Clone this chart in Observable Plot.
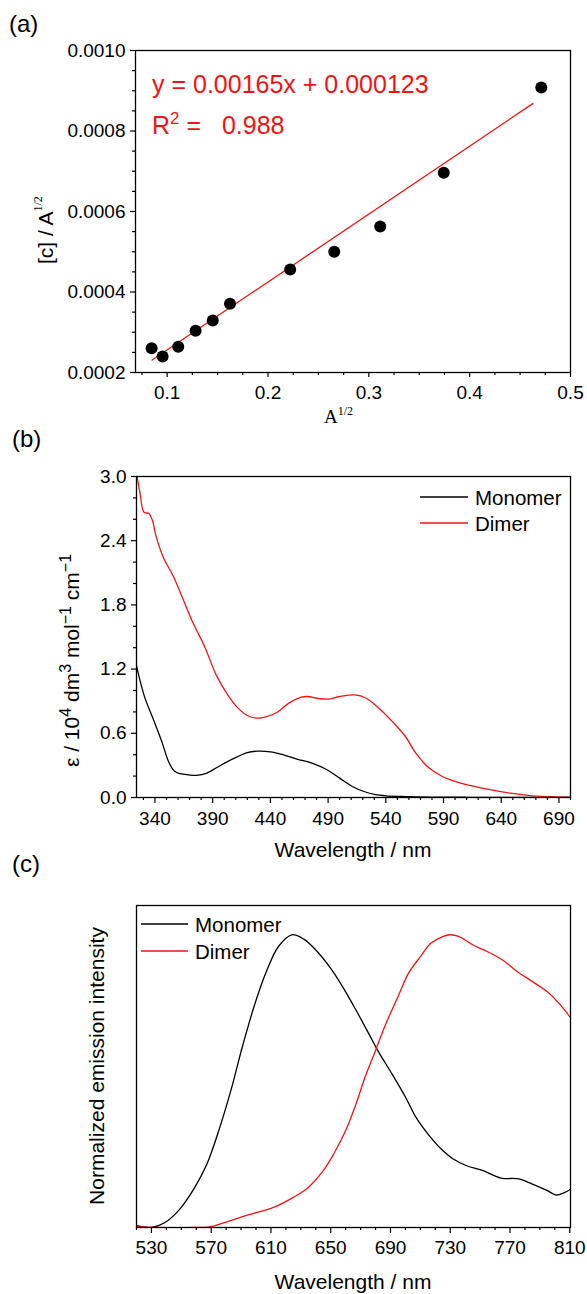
<!DOCTYPE html>
<html>
<head>
<meta charset="utf-8">
<script src="https://cdn.jsdelivr.net/npm/d3@7"></script>
<script src="https://cdn.jsdelivr.net/npm/@observablehq/plot@0.6"></script>
<style>
  body { margin: 0; background: #fff; }
  #page { position: relative; width: 587px; height: 1294px; overflow: hidden; background: #fff; }
  .panel { position: absolute; left: 0; }
  #overlay { position: absolute; left: 0; top: 0; pointer-events: none; }
</style>
</head>
<body>
<div id="page"></div>
<script>
// ---------- Panel (a): [c]/A^1/2 vs A^1/2 ----------
const sqrtA   = [0.0846, 0.0955, 0.1110, 0.1282, 0.1452, 0.1623, 0.2220, 0.2657, 0.3113, 0.3743, 0.4710];
const cOverSqrtA = [0.000260, 0.000240, 0.000264, 0.000304, 0.000329, 0.000371, 0.000456, 0.000500, 0.000563, 0.000696, 0.000908];
const fitX = [0.0851, 0.4626];
const fitY = [0.000231, 0.000868];
const aXTicks = [0.1, 0.2, 0.3, 0.4, 0.5];
const aXMinor = [0.075, 0.125, 0.15, 0.175, 0.225, 0.25, 0.275, 0.325, 0.35, 0.375, 0.425, 0.45, 0.475];
const aYTicks = [0.0002, 0.0004, 0.0006, 0.0008, 0.0010];
const aYMinor = [0.00025, 0.0003, 0.00035, 0.00045, 0.0005, 0.00055, 0.00065, 0.0007, 0.00075, 0.00085, 0.0009, 0.00095];

// ---------- Panel (b): absorption ----------
const monoAbsWl  = [324, 331, 339, 346, 352, 357, 362, 369, 376, 385, 394, 407, 420, 429, 440, 450, 463, 476, 489, 500, 511, 521, 531, 540, 557, 579, 612, 650, 700];
const monoAbsEps = [1.23, 0.94, 0.72, 0.52, 0.33, 0.245, 0.222, 0.212, 0.207, 0.228, 0.283, 0.358, 0.42, 0.433, 0.427, 0.402, 0.358, 0.321, 0.259, 0.181, 0.103, 0.056, 0.027, 0.016, 0.009, 0.004, 0.002, 0.001, 0];
const dimerAbsWl  = [324.5, 327, 330.5, 334.8, 337.8, 341, 347, 356, 364, 373, 383, 393, 403, 412, 420, 429, 437, 446, 456, 466, 472, 482, 490, 500, 513, 523, 534, 547, 557, 566, 576, 589, 605, 628, 648, 667, 687, 700];
const dimerAbsEps = [3.0, 2.85, 2.666, 2.654, 2.589, 2.44, 2.25, 2.066, 1.863, 1.63, 1.411, 1.146, 0.96, 0.835, 0.766, 0.741, 0.757, 0.797, 0.882, 0.935, 0.944, 0.925, 0.919, 0.944, 0.959, 0.928, 0.835, 0.695, 0.57, 0.414, 0.29, 0.196, 0.134, 0.078, 0.04, 0.016, 0.006, 0.003];
const bXTicks = [340, 390, 440, 490, 540, 590, 640, 690];
const bXMinor = d3.range(330, 701, 10).filter(v => !bXTicks.includes(v));
const bYTicks = [0, 0.6, 1.2, 1.8, 2.4, 3.0];
const bYMinor = [0.2, 0.4, 0.8, 1.0, 1.4, 1.6, 2.0, 2.2, 2.6, 2.8];

// ---------- Panel (c): emission ----------
const monoEmWl = [520, 530, 539, 549, 559, 567, 575, 583, 591, 599, 607, 615, 624, 632, 640, 650, 658, 667, 676, 682, 691, 700, 707, 715, 724, 732, 741, 752, 764, 776, 785, 795, 801, 806, 810];
const monoEm   = [0.006, 0, 0.017, 0.063, 0.137, 0.215, 0.33, 0.465, 0.62, 0.76, 0.875, 0.96, 1.0, 0.985, 0.948, 0.885, 0.822, 0.742, 0.657, 0.6, 0.525, 0.446, 0.377, 0.32, 0.268, 0.234, 0.211, 0.194, 0.169, 0.166, 0.148, 0.126, 0.111, 0.118, 0.129];
const dimerEmWl = [520, 534, 559, 569, 579, 589, 599, 610, 625, 635, 645, 652, 660, 667, 673, 680, 687, 695, 702, 710, 717, 725, 730, 736, 745, 755, 765, 775, 785, 795, 803, 810];
const dimerEm   = [0.003, 0, 0, 0.002, 0.017, 0.034, 0.049, 0.065, 0.103, 0.137, 0.194, 0.251, 0.331, 0.423, 0.514, 0.605, 0.697, 0.788, 0.868, 0.925, 0.971, 0.994, 1.0, 0.994, 0.966, 0.942, 0.914, 0.874, 0.84, 0.805, 0.765, 0.72];
const cXTicks = [530, 570, 610, 650, 690, 730, 770, 810];
const cXMinor = d3.range(520, 811, 10).filter(v => !cXTicks.includes(v));

const seriesNames = ["Monomer", "Dimer"];
const RED = "#f01414";
const SANS = '"Liberation Sans", Arial, Helvetica, sans-serif';
const SERIF = '"Liberation Serif", "Times New Roman", serif';

const zip = (xs, ys) => xs.map((x, i) => ({x, y: ys[i]}));

const page = document.getElementById("page");
function place(svg, top) {
  const div = document.createElement("div");
  div.className = "panel";
  div.style.top = top + "px";
  div.appendChild(svg);
  page.appendChild(div);
}
const baseStyle = {fontFamily: SANS, fontSize: "19px", color: "#000", background: "none", overflow: "visible"};
const blank = () => "";

// Panel (a)
place(Plot.plot({
  width: 587, height: 420,
  marginTop: 50, marginBottom: 48, marginLeft: 135, marginRight: 17,
  style: baseStyle,
  x: {domain: [0.0686, 0.5], label: null},
  y: {domain: [0.0002, 0.0010], label: null},
  marks: [
    Plot.frame({stroke: "#000", strokeWidth: 1.3}),
    Plot.axisX({ticks: aXTicks, tickSize: 5, tickPadding: 8, strokeWidth: 1.2, tickFormat: d3.format(".1f"), label: null}),
    Plot.axisX({ticks: aXMinor, tickSize: 3, strokeWidth: 1.2, tickFormat: blank, label: null}),
    Plot.axisY({ticks: aYTicks, tickSize: 5, tickPadding: 5, strokeWidth: 1.2, tickFormat: d3.format(".4f"), label: null}),
    Plot.axisY({ticks: aYMinor, tickSize: 3, strokeWidth: 1.2, tickFormat: blank, label: null}),
    Plot.line(zip(fitX, fitY), {x: "x", y: "y", stroke: RED, strokeWidth: 1.3}),
    Plot.dot(zip(sqrtA, cOverSqrtA), {x: "x", y: "y", r: 6, fill: "#000", stroke: "none"})
  ]
}), 0);

// Panel (b)
place(Plot.plot({
  width: 587, height: 440,
  marginTop: 56, marginBottom: 63, marginLeft: 136, marginRight: 17,
  style: baseStyle,
  x: {domain: [324, 700], label: null},
  y: {domain: [0, 3], label: null},
  marks: [
    Plot.line(zip(monoAbsWl, monoAbsEps), {x: "x", y: "y", stroke: "#000", strokeWidth: 1.3, curve: "catmull-rom", clip: true}),
    Plot.line(zip(dimerAbsWl, dimerAbsEps), {x: "x", y: "y", stroke: RED, strokeWidth: 1.3, curve: "catmull-rom", clip: true}),
    Plot.frame({stroke: "#000", strokeWidth: 1.3}),
    Plot.axisX({ticks: bXTicks, tickSize: 6, tickPadding: 8, strokeWidth: 1.2, tickFormat: d3.format("d"), label: null}),
    Plot.axisX({ticks: bXMinor, tickSize: 3, strokeWidth: 1.2, tickFormat: blank, label: null}),
    Plot.axisY({ticks: bYTicks, tickSize: 5, tickPadding: 5, strokeWidth: 1.2, tickFormat: d3.format(".1f"), label: null}),
    Plot.axisY({ticks: bYMinor, tickSize: 3, strokeWidth: 1.2, tickFormat: blank, label: null})
  ]
}), 420);

// Panel (c)
place(Plot.plot({
  width: 587, height: 434,
  marginTop: 45, marginBottom: 67, marginLeft: 136, marginRight: 17,
  style: baseStyle,
  x: {domain: [520, 810.5], label: null},
  y: {domain: [0, 1.1], axis: null, label: null},
  marks: [
    Plot.line(zip(monoEmWl, monoEm), {x: "x", y: "y", stroke: "#000", strokeWidth: 1.3, curve: "catmull-rom", clip: true}),
    Plot.line(zip(dimerEmWl, dimerEm), {x: "x", y: "y", stroke: RED, strokeWidth: 1.3, curve: "catmull-rom", clip: true}),
    Plot.frame({stroke: "#000", strokeWidth: 1.3}),
    Plot.axisX({ticks: cXTicks, tickSize: 6, tickPadding: 7, strokeWidth: 1.2, tickFormat: d3.format("d"), label: null}),
    Plot.axisX({ticks: cXMinor, tickSize: 3, strokeWidth: 1.2, tickFormat: blank, label: null})
  ]
}), 860);

// ---------- Overlay: titles, labels, legends, equation ----------
const ov = d3.select(page).append("svg")
  .attr("id", "overlay").attr("width", 587).attr("height", 1294)
  .style("font-family", SANS).style("white-space", "pre");

function rich(x, y, parts, {size = 21, fill = "#000", anchor = "start", rotate = false, family = SANS} = {}) {
  const t = ov.append("text")
    .attr("x", x).attr("y", y)
    .attr("fill", fill).attr("font-size", size).attr("font-family", family)
    .attr("text-anchor", anchor);
  if (rotate) t.attr("transform", `rotate(-90 ${x} ${y})`);
  let shift = 0;
  for (const p of parts) {
    const s = t.append("tspan").text(p.t);
    if (p.family) s.attr("font-family", p.family);
    if (p.sup) {
      const fs = p.size || size * 0.75;
      const up = p.up || size * 0.42;
      s.attr("font-size", fs).attr("dy", -up - shift);
      shift = -up;
    } else {
      s.attr("dy", -shift);
      shift = 0;
    }
  }
  return t;
}

// panel letters
rich(9, 32, [{t: "(a)"}], {size: 24});
rich(12, 447, [{t: "(b)"}], {size: 24});
rich(12, 872, [{t: "(c)"}], {size: 24});

// panel (a) texts
rich(152, 93, [{t: "y = 0.00165x + 0.000123"}], {size: 25, fill: RED});
rich(152, 134, [{t: "R"}, {t: "2", sup: true, size: 17, up: 10}, {t: "\u00A0=\u00A0\u00A0\u00A00.988"}], {size: 25, fill: RED});
rich(53, 264, [{t: "[c] / A"}, {t: "1/2", sup: true, size: 12, up: 11, family: SERIF}], {size: 21, rotate: true});
rich(324, 423, [{t: "A", family: SERIF}, {t: "1/2", sup: true, size: 12, up: 8, family: SERIF}], {size: 19, family: SERIF});

// panel (b) texts
rich(79, 767, [
  {t: "ε / 10"}, {t: "4", sup: true, size: 16, up: 8},
  {t: " dm"}, {t: "3", sup: true, size: 16, up: 8},
  {t: " mol"}, {t: "−1", sup: true, size: 16, up: 8},
  {t: " cm"}, {t: "−1", sup: true, size: 16, up: 8}
], {size: 21, rotate: true});
rich(353, 857, [{t: "Wavelength / nm"}], {size: 21, anchor: "middle"});

// panel (c) texts
rich(104, 1066, [{t: "Normalized emission intensity"}], {size: 21, anchor: "middle", rotate: true});
rich(353, 1289, [{t: "Wavelength / nm"}], {size: 21, anchor: "middle"});

// legends
function legend(x1, x2, ys, textX, baselines, size) {
  seriesNames.forEach((name, i) => {
    const col = i === 0 ? "#000" : RED;
    ov.append("line").attr("x1", x1).attr("x2", x2).attr("y1", ys[i]).attr("y2", ys[i])
      .attr("stroke", col).attr("stroke-width", 1.3);
    rich(textX, baselines[i], [{t: name}], {size});
  });
}
legend(420, 468, [497, 523], 475, [505, 531], 20.5);
legend(141, 188, [924, 951], 195, [932, 959], 20.5);
</script>
</body>
</html>
